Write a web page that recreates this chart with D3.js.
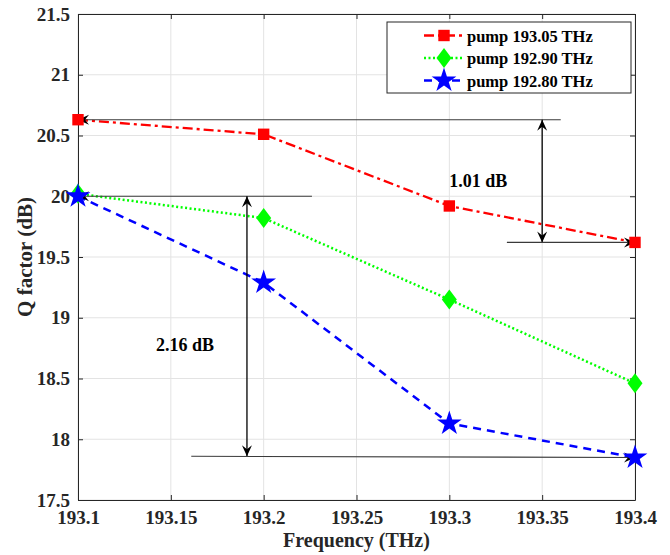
<!DOCTYPE html>
<html>
<head>
<meta charset="utf-8">
<script src="https://cdn.jsdelivr.net/npm/d3@7"></script>
<style>
  body { margin: 0; background: #fff; }
  text { font-family: "Liberation Serif", "Times New Roman", serif; font-weight: bold; }
</style>
</head>
<body>
<svg id="chart" width="670" height="555"></svg>
<script>
// data
const freq = [193.1, 193.2, 193.3, 193.4];
const pump1 = [20.63, 20.51, 19.92, 19.62]; // 193.05 THz
const pump2 = [20.02, 19.82, 19.15, 18.46]; // 192.90 THz
const pump3 = [20.0, 19.29, 18.13, 17.85];  // 192.80 THz
const seriesNames = ["pump 193.05 THz", "pump 192.90 THz", "pump 192.80 THz"];
const xTicks = [193.1, 193.15, 193.2, 193.25, 193.3, 193.35, 193.4];
const yTicks = [17.5, 18, 18.5, 19, 19.5, 20, 20.5, 21, 21.5];

// annotation lines in data units: [x1, y1, x2, y2, headAtStart, headAtEnd]
const annoLines = [
  [193.1, 20.63, 193.36, 20.63, true, false],
  [193.35, 20.63, 193.35, 19.62, true, true],
  [193.331, 19.62, 193.4, 19.62, false, true],
  [193.1, 20.0, 193.226, 20.0, true, false],
  [193.191, 20.0, 193.191, 17.86, true, true],
  [193.161, 17.86, 193.4, 17.85, false, true]
];
const annoTexts = [
  { x: 193.3, y: 20.08, label: "1.01 dB" },
  { x: 193.142, y: 18.73, label: "2.16 dB" }
];

const margin = { left: 78, right: 35, top: 14, bottom: 55 };
const width = 670, height = 555;
const svg = d3.select("#chart");

const x = d3.scaleLinear().domain([193.1, 193.4]).range([margin.left, width - margin.right]);
const y = d3.scaleLinear().domain([17.5, 21.5]).range([height - margin.bottom, margin.top]);

// grid
svg.append("g").selectAll("line").data(xTicks).join("line")
  .attr("x1", d => x(d)).attr("x2", d => x(d))
  .attr("y1", y(17.5)).attr("y2", y(21.5))
  .attr("stroke", "#e3e3e3").attr("stroke-width", 1);
svg.append("g").selectAll("line").data(yTicks).join("line")
  .attr("x1", x(193.1)).attr("x2", x(193.4))
  .attr("y1", d => y(d)).attr("y2", d => y(d))
  .attr("stroke", "#e3e3e3").attr("stroke-width", 1);

// axes (ticks inside, box on)
const axisColor = "#262626";
const fmt = d => d3.format("")(+d.toFixed(2));
svg.append("g").attr("transform", `translate(0,${y(17.5)})`)
  .call(d3.axisBottom(x).tickValues(xTicks).tickFormat(fmt).tickSizeInner(-5).tickSizeOuter(0).tickPadding(11))
  .call(g => g.selectAll("text").attr("font-size", 19).attr("fill", axisColor));
svg.append("g").attr("transform", `translate(0,${y(21.5)})`)
  .call(d3.axisTop(x).tickValues(xTicks).tickFormat("").tickSizeInner(-5).tickSizeOuter(0));
svg.append("g").attr("transform", `translate(${x(193.1)},0)`)
  .call(d3.axisLeft(y).tickValues(yTicks).tickFormat(fmt).tickSizeInner(-5).tickSizeOuter(0).tickPadding(8))
  .call(g => g.selectAll("text").attr("font-size", 19).attr("fill", axisColor));
svg.append("g").attr("transform", `translate(${x(193.4)},0)`)
  .call(d3.axisRight(y).tickValues(yTicks).tickFormat("").tickSizeInner(-5).tickSizeOuter(0));
svg.selectAll(".domain").attr("stroke", axisColor);
svg.selectAll(".tick line").attr("stroke", axisColor);
svg.selectAll("text").style("font-family", '"Liberation Serif", serif').style("font-weight", "bold");

// axis labels
svg.append("text").attr("x", (x(193.1) + x(193.4)) / 2).attr("y", 547)
  .attr("text-anchor", "middle").attr("font-size", 20).attr("fill", axisColor)
  .text("Frequency (THz)");
svg.append("text").attr("transform", `translate(32,${(y(17.5) + y(21.5)) / 2}) rotate(-90)`)
  .attr("text-anchor", "middle").attr("font-size", 21).attr("fill", axisColor)
  .text("Q factor (dB)");

// series
const series = [
  { vals: pump1, color: "#ff0000", dash: "10,4,3,4", width: 2.3, marker: d3.symbolSquare, size: 130 },
  { vals: pump2, color: "#00ff00", dash: "2,2.5", width: 2.5, marker: "diamond", size: 0 },
  { vals: pump3, color: "#0000ff", dash: "8,6", width: 2.5, marker: d3.symbolStar, size: 190 }
];

function markerPath(s) {
  if (s.marker === "diamond") return "M0,-10L7.5,0L0,10L-7.5,0Z";
  return d3.symbol().type(s.marker).size(s.size)();
}

const line = d3.line().x((d, i) => x(freq[i])).y(d => y(d));
series.forEach(s => {
  svg.append("path").datum(s.vals)
    .attr("d", line).attr("fill", "none")
    .attr("stroke", s.color).attr("stroke-width", s.width)
    .attr("stroke-dasharray", s.dash);
});

// annotation arrows
function arrowHead(px, py, ang) {
  svg.append("path")
    .attr("d", "M0,0L-11,-5L-7,0L-11,5Z")
    .attr("transform", `translate(${px},${py}) rotate(${ang})`)
    .attr("fill", "#000");
}
annoLines.forEach(a => {
  const x1 = x(a[0]), y1 = y(a[1]), x2 = x(a[2]), y2 = y(a[3]);
  const vertical = a[0] === a[2];
  svg.append("line").attr("x1", x1).attr("y1", y1).attr("x2", x2).attr("y2", y2)
    .attr("stroke", vertical ? "#000" : "#3a3a3a").attr("stroke-width", vertical ? 1.3 : 1.1);
  const ang = Math.atan2(y2 - y1, x2 - x1) * 180 / Math.PI;
  if (a[4]) arrowHead(x1, y1, ang + 180);
  if (a[5]) arrowHead(x2, y2, ang);
});

series.forEach(s => {
  svg.append("g").selectAll("path").data(s.vals).join("path")
    .attr("d", markerPath(s))
    .attr("transform", (d, i) => `translate(${x(freq[i])},${y(d)})`)
    .attr("fill", s.color);
});

svg.append("g").selectAll("text").data(annoTexts).join("text")
  .attr("x", d => x(d.x)).attr("y", d => y(d.y))
  .attr("font-size", 18).attr("fill", "#000")
  .text(d => d.label);

// legend
const lg = svg.append("g").attr("transform", "translate(387,22)");
lg.append("rect").attr("width", 244).attr("height", 71)
  .attr("fill", "#fff").attr("stroke", "#262626").attr("stroke-width", 1);
series.forEach((s, i) => {
  const row = lg.append("g").attr("transform", `translate(0,${13.5 + i * 22.5})`);
  row.append("line").attr("x1", 37).attr("x2", 77).attr("y1", 0).attr("y2", 0)
    .attr("stroke", s.color).attr("stroke-width", s.width).attr("stroke-dasharray", s.dash);
  row.append("path").attr("d", markerPath(s)).attr("transform", "translate(57,0)").attr("fill", s.color);
  row.append("text").attr("x", 80).attr("y", 6).attr("font-size", 16.5).attr("fill", "#000")
    .text(seriesNames[i]);
});
</script>
</body>
</html>
